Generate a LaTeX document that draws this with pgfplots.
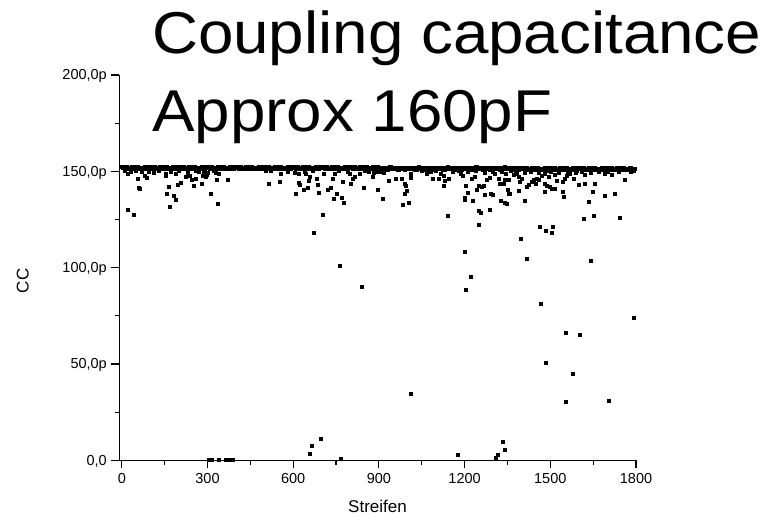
\documentclass[border=0pt]{standalone}
\usepackage{fontspec}
\setmainfont{Liberation Sans}
\usepackage{pgfplots}
\pgfplotsset{compat=1.18}
\begin{document}
\begin{tikzpicture}
\path[use as bounding box] (-119.5bp,-57.7bp) rectangle (652.5bp,460.3bp);
\begin{axis}[
 at={(0,0)}, anchor=south west,
 scale only axis, width=516.5bp, height=385.3bp,
 xmin=-8, xmax=1800, ymin=0, ymax=200,
 axis lines=left, axis line style={-, line width=1.3bp, black},
 tick align=outside, tick style={black, line width=1.2bp},
 major tick length=8bp, minor tick length=4.5bp,
 xtick={0,300,...,1800}, minor xtick={150,450,...,1650},
 ytick={0,50,...,200}, minor ytick={25,75,...,175},
 xticklabels={0,300,600,900,1200,1500,1800},
 yticklabels={{0,0},{50,0p},{100,0p},{150,0p},{200,0p}},
 ticklabel style={font=\fontsize{14.5bp}{16bp}\selectfont},
 /pgf/number format/assume math mode=true,
 xticklabel style={anchor=base, inner sep=0pt, yshift=-15bp},
 yticklabel style={anchor=base east, inner sep=0pt, xshift=-4.5bp, yshift=-5bp},
 clip=false,
]
% band
\addplot[only marks, mark=square*, mark size=1.75bp, mark options={fill=black, draw=none}] coordinates {
(0,152.3)(10,151.6)(20,152.0)(30,151.4)(40,152.4)(50,151.7)(60,151.9)(70,151.5)(80,152.2)(90,151.3)
(100,152.3)(110,151.6)(120,152.0)(130,151.4)(140,152.4)(150,151.7)(160,151.9)(170,151.5)(180,152.2)(190,151.3)
(200,152.3)(210,151.6)(220,152.0)(230,151.4)(240,152.4)(250,151.7)(260,151.9)(270,151.5)(280,152.2)(290,151.3)
(300,152.3)(310,151.6)(320,152.0)(330,151.4)(340,152.4)(350,151.7)(360,151.9)(370,151.5)(380,152.2)(390,151.3)
(400,152.3)(410,151.6)(420,152.0)(430,151.4)(440,152.4)(450,151.7)(460,151.9)(470,151.5)(480,152.2)(490,151.3)
(500,152.3)(510,151.6)(520,152.0)(530,151.4)(540,152.4)(550,151.7)(560,151.9)(570,151.5)(580,152.2)(590,151.3)
(600,152.3)(610,151.6)(620,152.0)(630,151.4)(640,152.4)(650,151.7)(660,151.9)(670,151.5)(680,152.2)(690,151.3)
(700,152.3)(710,151.6)(720,152.0)(730,151.4)(740,152.4)(750,151.7)(760,151.9)(770,151.5)(780,152.2)(790,151.3)
(800,152.3)(810,151.6)(820,152.0)(830,151.4)(840,152.4)(850,151.7)(860,151.9)(870,151.5)(880,152.2)(890,151.3)
(900,152.0)(910,151.3)(920,151.7)(930,151.1)(940,152.1)(950,151.4)(960,151.6)(970,151.2)(980,151.9)(990,151.0)
(1000,152.0)(1010,151.3)(1020,151.7)(1030,151.1)(1040,152.1)(1050,151.4)(1060,151.6)(1070,151.2)(1080,151.9)(1090,151.0)
(1100,152.0)(1110,151.3)(1120,151.7)(1130,151.1)(1140,152.1)(1150,151.4)(1160,151.6)(1170,151.2)(1180,151.9)(1190,151.0)
(1200,152.0)(1210,151.3)(1220,151.7)(1230,151.1)(1240,152.1)(1250,151.4)(1260,151.6)(1270,151.2)(1280,151.9)(1290,151.0)
(1300,152.0)(1310,151.3)(1320,151.7)(1330,151.1)(1340,152.1)(1350,151.4)(1360,151.6)(1370,151.2)(1380,151.9)(1390,151.0)
(1400,151.7)(1410,151.0)(1420,151.4)(1430,150.8)(1440,151.8)(1450,151.1)(1460,151.3)(1470,150.9)(1480,151.6)(1490,150.7)
(1500,151.7)(1510,151.0)(1520,151.4)(1530,150.8)(1540,151.8)(1550,151.1)(1560,151.3)(1570,150.9)(1580,151.6)(1590,150.7)
(1600,151.7)(1610,151.0)(1620,151.4)(1630,150.8)(1640,151.8)(1650,151.1)(1660,151.3)(1670,150.9)(1680,151.6)(1690,150.7)
(1700,151.7)(1710,151.0)(1720,151.4)(1730,150.8)(1740,151.8)(1750,151.1)(1760,151.3)(1770,150.9)(1780,151.6)(1790,150.7)
(5,151.9)(15,152.2)(25,151.5)(35,152.1)(45,151.6)(55,152.3)(65,151.4)(75,152.0)(85,151.7)(95,152.2)
(105,151.9)(115,152.2)(125,151.5)(135,152.1)(145,151.6)(155,152.3)(165,151.4)(175,152.0)(185,151.7)(195,152.2)
(205,151.9)(215,152.2)(225,151.5)(235,152.1)(245,151.6)(255,152.3)(265,151.4)(275,152.0)(285,151.7)(295,152.2)
(305,151.9)(315,152.2)(325,151.5)(335,152.1)(345,151.6)(355,152.3)(365,151.4)(375,152.0)(385,151.7)(395,152.2)
(405,151.9)(415,152.2)(425,151.5)(435,152.1)(445,151.6)(455,152.3)(465,151.4)(475,152.0)(485,151.7)(495,152.2)
(505,151.9)(515,152.2)(525,151.5)(535,152.1)(545,151.6)(555,152.3)(565,151.4)(575,152.0)(585,151.7)(595,152.2)
(605,151.9)(615,152.2)(625,151.5)(635,152.1)(645,151.6)(655,152.3)(665,151.4)(675,152.0)(685,151.7)(695,152.2)
(705,151.9)(715,152.2)(725,151.5)(735,152.1)(745,151.6)(755,152.3)(765,151.4)(775,152.0)(785,151.7)(795,152.2)
(805,151.9)(815,152.2)(825,151.5)(835,152.1)(845,151.6)(855,152.3)(865,151.4)(875,152.0)(885,151.7)(895,152.2)
(905,151.6)(915,151.9)(925,151.2)(935,151.8)(945,151.3)(955,152.0)(965,151.1)(975,151.7)(985,151.4)(995,151.9)
(1005,151.6)(1015,151.9)(1025,151.2)(1035,151.8)(1045,151.3)(1055,152.0)(1065,151.1)(1075,151.7)(1085,151.4)(1095,151.9)
(1105,151.6)(1115,151.9)(1125,151.2)(1135,151.8)(1145,151.3)(1155,152.0)(1165,151.1)(1175,151.7)(1185,151.4)(1195,151.9)
(1205,151.6)(1215,151.9)(1225,151.2)(1235,151.8)(1245,151.3)(1255,152.0)(1265,151.1)(1275,151.7)(1285,151.4)(1295,151.9)
(1305,151.6)(1315,151.9)(1325,151.2)(1335,151.8)(1345,151.3)(1355,152.0)(1365,151.1)(1375,151.7)(1385,151.4)(1395,151.9)
(1405,151.3)(1415,151.6)(1425,150.9)(1435,151.5)(1445,151.0)(1455,151.7)(1465,150.8)(1475,151.4)(1485,151.1)(1495,151.6)
(1505,151.3)(1515,151.6)(1525,150.9)(1535,151.5)(1545,151.0)(1555,151.7)(1565,150.8)(1575,151.4)(1585,151.1)(1595,151.6)
(1605,151.3)(1615,151.6)(1625,150.9)(1635,151.5)(1645,151.0)(1655,151.7)(1665,150.8)(1675,151.4)(1685,151.1)(1695,151.6)
(1705,151.3)(1715,151.6)(1725,150.9)(1735,151.5)(1745,151.0)(1755,151.7)(1765,150.8)(1775,151.4)(1785,151.1)(1795,151.3)
};
% near band
\addplot[only marks, mark=square*, mark size=1.5bp, mark options={fill=black, draw=none}] coordinates {
(10,150.2)(30,149.8)(50,150.4)(70,149.6)(95,150.0)(110,149.5)(130,150.3)(170,149.7)(200,150.1)(230,149.4)(260,150.3)(285,149.9)(320,150.2)
(520,150.4)(580,150.0)(640,149.8)(670,150.3)(760,150.1)(790,149.7)(850,150.3)(890,150.0)
(1050,150.3)(1080,149.8)(1100,150.2)(1160,149.6)(1180,150.1)(1210,149.7)(1240,150.2)(1270,149.5)(1300,150.0)(1330,149.6)(1360,150.1)(1380,149.8)
(1410,149.4)(1430,150.0)(1460,149.5)(1500,149.9)(1530,149.4)(1560,149.8)(1590,149.3)(1610,149.9)(1640,149.5)(1670,149.9)(1700,149.6)(1740,149.8)(1780,149.9)
};
% scatter
\addplot[only marks, mark=square*, mark size=1.5bp, mark options={fill=black, draw=none}] coordinates {
(19,130.0)(43,127.3)
(671,118.0)(762,101.0)(840,90.0)(698,11.4)(665,7.8)(658,3.3)(768,0.8)
(303,0.3)(315,0.3)(340,0.4)(362,0.4)(376,0.4)(390,0.4)
(1248,122.5)(1462,121.1)(1485,119.4)(1507,121.5)(1505,118.3)(1397,115.2)(1199,108.3)(1416,104.5)(1643,103.8)(1222,95.3)(1205,88.4)(1465,81.5)(1792,74.0)(1553,66.2)(1602,65.2)(1483,50.9)(1580,45.0)(1012,34.8)(1555,30.3)(1703,30.8)(1332,9.7)(1342,5.5)(1176,2.8)(1315,2.9)(1310,1.4)
(21,149)(55,146.2)(58,141.7)(64,141.0)(79,147.6)(87,146.9)(152,148.6)(154,147.7)(163,142)(158,138.6)(166,131.6)(183,137.5)(189,135.1)(195,143.1)(207,144.3)(188,149)(222,147.2)(239,147.6)(245,145.5)(257,146)(251,142.4)(278,143.8)(282,147.9)(292,147.2)(297,148.1)(312,138.2)(334,133)(333,145.5)(338,149)(369,145.5)(302,149.5)(330,149.5)(268,149.8)
(504,150.3)(516,143.8)(554,144.5)(558,148.6)(604,149.3)(618,148.6)(621,144.1)(624,142.9)(610,138.2)(636,140.7)(650,141.7)(653,145.1)(659,147.2)(644,148.6)(683,146.4)(686,142.9)(691,139.1)(721,140.7)(730,141.7)(706,149)(744,148.6)(737,146.4)(753,138.6)(743,136)(772,144.6)(770,136.5)(776,133.7)(702,127.7)(799,148.6)(807,146.4)(817,147.2)(803,143.4)(834,148.6)(846,141.7)(866,149.8)(878,147.2)(882,149.3)(896,140.7)
(915,136)(933,145)(916,149.3)(904,149.8)(959,146.4)(980,146.4)(989,143.4)(994,142.4)(999,140)(989,138.2)(1003,133.7)(984,132.9)(1013,148.6)(1013,146.9)(1068,148.6)(1087,146.4)(1108,146.4)(1115,148.6)(1126,147.6)(1129,145.1)(1128,142.4)(1141,126.8)(1146,146.4)(1188,149)(1192,147.6)(1204,142.4)(1199,136.5)(1201,135.5)(1211,138.9)(1227,134.8)(1225,146.4)(1237,147.2)(1243,140.7)(1251,142.4)(1260,142)(1266,142.4)(1251,129.6)(1258,128.5)(1272,137.7)(1289,130.3)(1293,138.6)(1297,137.7)(1278,145.5)(1289,146.9)(1304,148.6)(1318,146.4)(1328,134.8)(1339,133.7)(1324,143.4)(1336,143.8)(1345,148.6)(1351,140.7)(1353,138.6)(1339,145.9)
(1353,145.9)(1348,133.4)(1358,138.6)(1371,148.1)(1383,149)(1388,147.2)(1394,144.6)(1400,146.4)(1391,140)(1409,134.8)(1418,142)(1423,142.9)(1435,144.6)(1441,145.5)(1449,143.4)(1453,146.4)(1458,145.5)(1470,147.6)(1479,143.8)(1479,139.3)(1488,142.4)(1497,142)(1505,141.2)(1514,141.2)(1493,147.2)(1482,148.6)(1517,148.1)(1523,145.1)(1542,144.6)(1549,146.4)(1542,139.3)(1546,136.8)(1558,147.6)(1569,148.6)(1581,146.4)(1601,142.9)(1619,143.8)(1622,148.1)(1633,134.2)(1647,139.3)(1654,143.8)(1616,125.6)(1651,126.8)(1689,137.2)(1689,149)(1715,148.1)(1727,138.6)(1744,126.1)(1759,145.5)
};
\end{axis}
\node[anchor=base west, inner sep=0pt, font=\fontsize{59bp}{70bp}\selectfont] at (32.4bp,406.3bp) {\scalebox{1.08}[1]{Coupling capacitance}};
\node[anchor=base west, inner sep=0pt, font=\fontsize{59bp}{70bp}\selectfont] at (32.4bp,328.3bp) {\scalebox{1.08}[1]{Approx 160pF}};
\node[rotate=90, inner sep=0pt, font=\fontsize{17bp}{20bp}\selectfont] at (-96.8bp,179.5bp) {CC};
\node[anchor=base, inner sep=0pt, font=\fontsize{17bp}{20bp}\selectfont] at (258bp,-52.2bp) {Streifen};
\end{tikzpicture}
\end{document}
